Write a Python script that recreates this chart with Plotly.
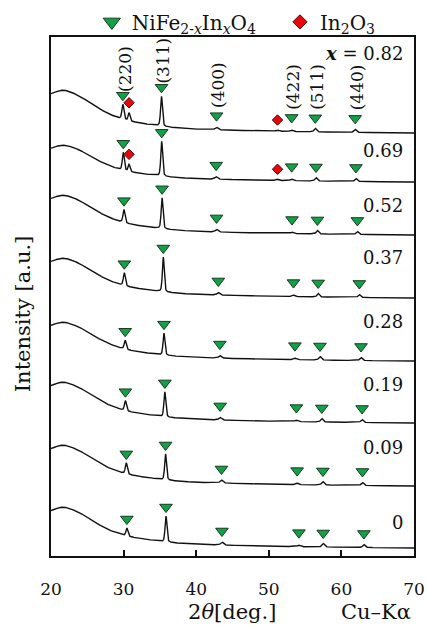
import numpy as np
import plotly.graph_objects as go

# ---- data -----------------------------------------------------------------
# In content x of NiFe(2-x)In(x)O4 films, top pattern first
compositions = ["0.82", "0.69", "0.52", "0.37", "0.28", "0.19", "0.09", "0"]

# baseline level of each pattern at 2theta = 70 deg (stacking offset, a.u.)
offsets = [423, 374, 321, 258, 195, 133, 70, 8]
# height of the broad glass-substrate hump of each pattern above its baseline
hump_heights = [43, 37, 40, 40, 39, 41, 41, 41]

# shape of the amorphous background, read as relative level vs 2theta
bg_two_theta = [20, 21, 21.7, 22.5, 24, 25, 26, 27, 28, 29, 30, 31, 32, 33,
                34, 35, 37, 40, 45, 50, 55, 60, 65, 70]
bg_level = [0.91, 0.98, 1.00, 0.97, 0.86, 0.74, 0.63, 0.53, 0.44, 0.37, 0.31,
            0.27, 0.24, 0.21, 0.19, 0.16, 0.125, 0.09, 0.065, 0.045, 0.03,
            0.018, 0.008, 0.0]

# spinel reflections: peak positions (deg) and heights (a.u.) per pattern
hkl_labels = ["(220)", "(311)", "(400)", "(422)", "(511)", "(440)"]
pos_220 = [29.90, 29.96, 30.05, 30.10, 30.22, 30.25, 30.37, 30.45]
pos_311 = [35.22, 35.25, 35.30, 35.47, 35.56, 35.68, 35.78, 35.84]
pos_400 = [42.80, 42.75, 42.80, 43.05, 43.26, 43.30, 43.48, 43.55]
pos_422 = [53.15, 53.15, 53.20, 53.40, 53.60, 53.80, 53.90, 54.15]
pos_511 = [56.40, 56.50, 56.70, 56.80, 57.05, 57.30, 57.45, 57.50]
pos_440 = [61.90, 62.00, 62.20, 62.47, 62.70, 62.85, 62.90, 63.10]

h_220 = [15, 18, 13, 13, 9, 10, 11, 8]
h_311 = [30, 35, 31, 35, 22, 25, 26, 26]
h_400 = [2.5, 2.5, 2.5, 2.5, 2.5, 2.5, 3, 3]
h_422 = [1.5, 1.5, 1.5, 1.5, 1.5, 1.5, 1.5, 1.5]
h_511 = [3.5, 3.5, 3.5, 3.5, 3.5, 3.5, 3.5, 3.5]
h_440 = [3, 3, 3, 3, 3, 3, 3, 3]

# In2O3 secondary phase, present in the two In-richest films
in2o3_pos_222 = [30.75, 30.75]
in2o3_h_222 = [8, 7]
in2o3_pos_440 = [51.20, 51.20]
in2o3_h_440 = [1.2, 1.2]

# x-axis ticks
x_ticks = [20, 30, 40, 50, 60, 70]

# ---- build profiles ---------------------------------------------------------
tt = np.round(np.arange(20.0, 70.0001, 0.02), 3)


def peak(x0, h, fwhm):
    g = np.exp(-4 * np.log(2) * (tt - x0) ** 2 / fwhm ** 2)
    lo = 1.0 / (1.0 + 4 * (tt - x0) ** 2 / fwhm ** 2)
    return h * (0.6 * g + 0.4 * lo)


def smooth(y, n=31):
    pad = n // 2
    yp = np.concatenate([np.full(pad, y[0]), y, np.full(pad, y[-1])])
    return np.convolve(yp, np.ones(n) / n, mode="valid")


spinel_pos = [pos_220, pos_311, pos_400, pos_422, pos_511, pos_440]
spinel_h = [h_220, h_311, h_400, h_422, h_511, h_440]
spinel_fwhm = [0.32, 0.30, 0.45, 0.45, 0.40, 0.40]

bg_shape = smooth(np.interp(tt, bg_two_theta, bg_level))

GREEN = "#13a049"
GREEN_EDGE = "#163b1c"
RED = "#e8060c"
RED_EDGE = "#4a0a0a"
FONT = "DejaVu Serif"
INK = "#111111"

TRI_SIZE = 11
SPINEL_NAME = ("NiFe<sub>2-<i>x</i></sub>In<sub><i>x</i></sub>O<sub>4</sub>"
               "&nbsp;&nbsp;&nbsp;")
IN2O3_NAME = "In<sub>2</sub>O<sub>3</sub>"

fig = go.Figure()

tri_x, tri_y = [], []
dia_x, dia_y = [], []
top_tri = []


def marker_height(y, base, x0, lift, min_lift):
    """Marker level just above the local maximum around x0."""
    win = np.abs(tt - x0) <= 0.25
    return max(float(y[win].max()) + lift, float(base[win].max()) + min_lift)


for i, comp in enumerate(compositions):
    base = offsets[i] + hump_heights[i] * bg_shape
    y = base.copy()
    for k in range(len(hkl_labels)):
        y = y + peak(spinel_pos[k][i], spinel_h[k][i], spinel_fwhm[k])
    if i < len(in2o3_pos_222):
        y = y + peak(in2o3_pos_222[i], in2o3_h_222[i], 0.30)
        y = y + peak(in2o3_pos_440[i], in2o3_h_440[i], 0.45)

    fig.add_trace(go.Scatter(x=tt, y=y, mode="lines",
                             line=dict(color=INK, width=1.4),
                             showlegend=False, hoverinfo="skip"))

    for k in range(len(hkl_labels)):
        x0 = spinel_pos[k][i]
        tri_x.append(x0)
        tri_y.append(marker_height(y, base, x0, 9, 14))
        if i == 0:
            top_tri.append((x0, tri_y[-1]))
    if i < len(in2o3_pos_222):
        for x0 in (in2o3_pos_222[i], in2o3_pos_440[i]):
            dia_x.append(x0)
            dia_y.append(marker_height(y, base, x0, 10, 10))

fig.add_trace(go.Scatter(
    x=tri_x, y=tri_y, mode="markers", cliponaxis=False, showlegend=False,
    marker=dict(symbol="triangle-down", size=TRI_SIZE, color=GREEN,
                line=dict(color=GREEN_EDGE, width=1)),
    hoverinfo="skip"))
fig.add_trace(go.Scatter(
    x=dia_x, y=dia_y, mode="markers", cliponaxis=False, showlegend=False,
    marker=dict(symbol="diamond", size=8, color=RED,
                line=dict(color=RED_EDGE, width=1)),
    hoverinfo="skip"))

# legend entries with slightly larger symbols
fig.add_trace(go.Scatter(
    x=[None], y=[None], mode="markers", name=SPINEL_NAME,
    marker=dict(symbol="triangle-down", size=15, color=GREEN,
                line=dict(color=GREEN_EDGE, width=1))))
fig.add_trace(go.Scatter(
    x=[None], y=[None], mode="markers", name=IN2O3_NAME,
    marker=dict(symbol="diamond", size=11, color=RED,
                line=dict(color=RED_EDGE, width=1))))

# ---- annotations --------------------------------------------------------------
annotations = []

# Miller indices above the top pattern (rotated text, centred on the peak);
# the y axis runs one unit per pixel, so offsets are given in axis units
hkl_gap = [1, 1, 5, 5, 5, 5]
HKL_HALF_LEN = 23
for k, lab in enumerate(hkl_labels):
    x0, yt = top_tri[k]
    annotations.append(dict(
        x=x0, y=yt + TRI_SIZE / 4 + hkl_gap[k] + HKL_HALF_LEN,
        xref="x", yref="y", text=lab,
        textangle=-90, showarrow=False, xanchor="center", yanchor="middle",
        xshift=1.5, font=dict(family=FONT, size=17, color=INK)))

# composition labels at the right-hand side
comp_label_y = [503, 406, 351, 299, 235, 172, 109, 34]
for i, comp in enumerate(compositions):
    txt = "<b><i>x</i></b> = " + comp if i == 0 else comp
    annotations.append(dict(
        x=70, y=comp_label_y[i], xref="x", yref="y", text=txt,
        showarrow=False, xanchor="right", yanchor="middle", xshift=-9,
        font=dict(family=FONT, size=18, color=INK)))

# axis titles
annotations.append(dict(
    x=-0.077, y=0.466, xref="paper", yref="paper", text="Intensity [a.u.]",
    textangle=-90, showarrow=False, xanchor="center", yanchor="middle",
    font=dict(family=FONT, size=21, color=INK)))
annotations.append(dict(
    x=0.499, y=-0.108, xref="paper", yref="paper",
    text="2<i>θ</i>[deg.]", showarrow=False, xanchor="center",
    yanchor="middle", font=dict(family=FONT, size=21, color=INK)))
annotations.append(dict(
    x=0.895, y=-0.108, xref="paper", yref="paper", text="Cu–Kα",
    showarrow=False, xanchor="center", yanchor="middle",
    font=dict(family=FONT, size=21, color=INK)))

fig.update_layout(
    width=427, height=626,
    margin=dict(l=51, r=13, t=37, b=70, autoexpand=False),
    paper_bgcolor="white", plot_bgcolor="white",
    font=dict(family=FONT, size=16, color=INK),
    annotations=annotations,
    legend=dict(orientation="h", xref="container", yref="container",
                x=0.215, y=0.965, xanchor="left", yanchor="middle",
                font=dict(family=FONT, size=20, color=INK),
                itemwidth=30, bgcolor="rgba(0,0,0,0)", tracegroupgap=0),
    xaxis=dict(range=[20, 70], tickvals=x_ticks, ticks="inside", ticklen=6,
               tickwidth=2, tickcolor=INK, showline=True, linewidth=2,
               linecolor=INK, mirror=True, showgrid=False, zeroline=False,
               ticklabelstandoff=17,
               tickfont=dict(family=FONT, size=17, color=INK)),
    yaxis=dict(range=[0, 519], showticklabels=False, ticks="",
               showline=True, linewidth=2, linecolor=INK, mirror=True,
               showgrid=False, zeroline=False),
)

fig.write_html("out.html")
